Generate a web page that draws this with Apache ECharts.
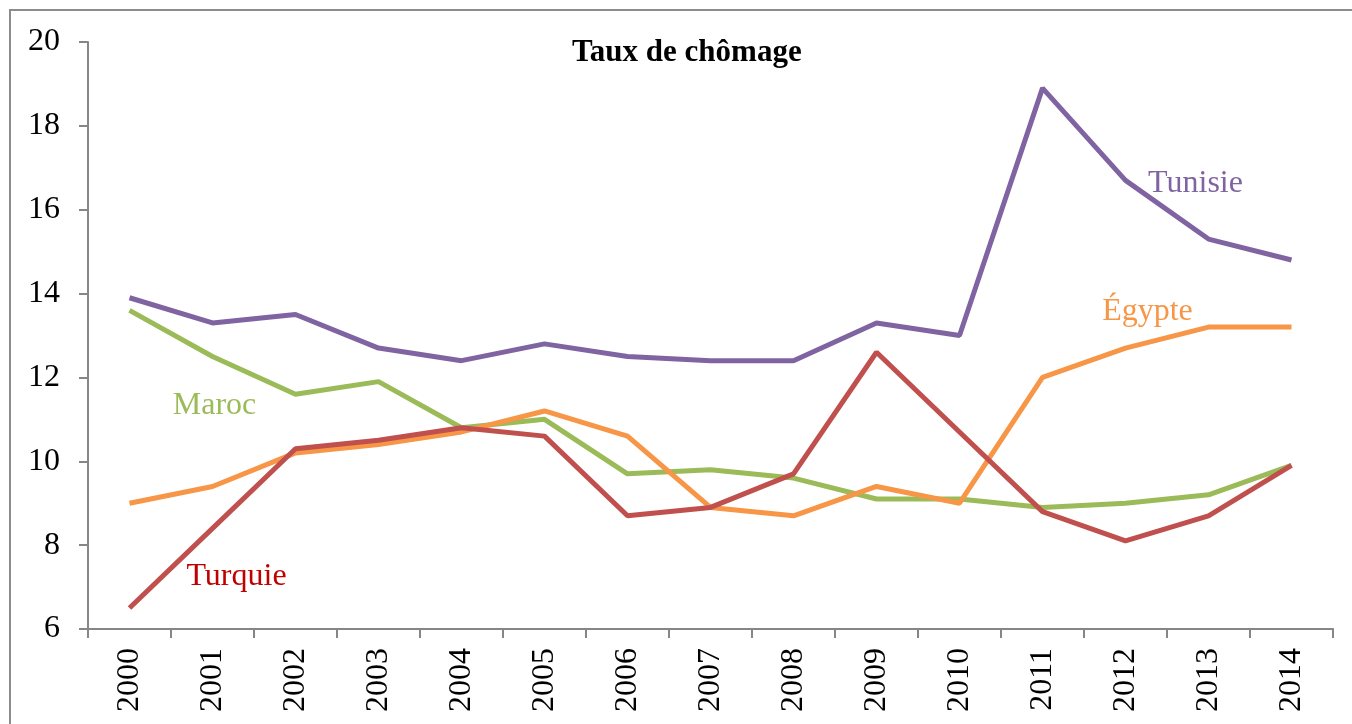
<!DOCTYPE html>
<html><head><meta charset="utf-8">
<script src="https://cdn.jsdelivr.net/npm/echarts@6/dist/echarts.min.js"></script>
<style>html,body{margin:0;padding:0;background:#fff}#c{width:1352px;height:724px}</style>
</head><body><div id="c"></div>
<script>
const years = ['2000','2001','2002','2003','2004','2005','2006','2007','2008','2009','2010','2011','2012','2013','2014'];
const tunisie = [13.9,13.3,13.5,12.7,12.4,12.8,12.5,12.4,12.4,13.3,13.0,18.9,16.7,15.3,14.8];
const maroc   = [13.6,12.5,11.6,11.9,10.8,11.0,9.7,9.8,9.6,9.1,9.1,8.9,9.0,9.2,9.9];
const turquie = [6.5,8.4,10.3,10.5,10.8,10.6,8.7,8.9,9.7,12.6,10.7,8.8,8.1,8.7,9.9];
const egypte  = [9.0,9.4,10.2,10.4,10.7,11.2,10.6,8.9,8.7,9.4,9.0,12.0,12.7,13.2,13.2];
const yTicks = {min: 6, max: 20, interval: 2};

const FONT = '"Liberation Serif","Times New Roman",serif';
function mk(name, data, color, labelColor, lab) {
  return {
    name, type: 'line', data, symbol: 'none',
    lineStyle: {color, width: 5}, itemStyle: {color},
    markPoint: {
      symbol: 'circle', symbolSize: 0, silent: true,
      label: {show: true, position: 'inside', formatter: name, color: labelColor,
        fontFamily: FONT, fontSize: 32, offset: lab.offset},
      data: [{coord: lab.coord}]
    }
  };
}
const chart = echarts.init(document.getElementById('c'));
chart.setOption({
  animation: false,
  backgroundColor: '#fff',
  title: {text: 'Taux de chômage', left: 567, top: 32,
    textStyle: {fontFamily: FONT, fontSize: 31, fontWeight: 'bold', color: '#000'}},
  grid: {left: 88, right: 19, top: 42, bottom: 95},
  xAxis: {type: 'category', data: years, boundaryGap: true,
    axisLine: {lineStyle: {color: '#868686', width: 2}},
    axisTick: {show: true, length: 9, lineStyle: {color: '#868686', width: 2}},
    axisLabel: {rotate: 90, margin: 19, color: '#000', fontFamily: FONT, fontSize: 32}},
  yAxis: {type: 'value', min: yTicks.min, max: yTicks.max, interval: yTicks.interval,
    splitLine: {show: false},
    axisLine: {show: true, lineStyle: {color: '#868686', width: 2}},
    axisTick: {show: true, length: 9, lineStyle: {color: '#868686', width: 2}},
    axisLabel: {margin: 28, padding: [5, 0, 0, 0], color: '#000', fontFamily: FONT, fontSize: 32}},
  graphic: [{type: 'rect', shape: {x: 10, y: 10, width: 1400, height: 800},
    style: {fill: 'none', stroke: '#8c8c8c', lineWidth: 2}, silent: true, z: -1}],
  series: [
    mk('Maroc', maroc, '#9BBB59', '#9BBB59', {coord: ['2001', 11.37], offset: [2, 2]}),
    mk('Égypte', egypte, '#F79646', '#F79646', {coord: ['2012', 13.61], offset: [22, 2]}),
    mk('Turquie', turquie, '#C0504D', '#C00000', {coord: ['2001', 7.3], offset: [24, 2]}),
    mk('Tunisie', tunisie, '#8064A2', '#8064A2', {coord: ['2013', 16.68], offset: [-13, 2]})
  ]
});
</script></body></html>
